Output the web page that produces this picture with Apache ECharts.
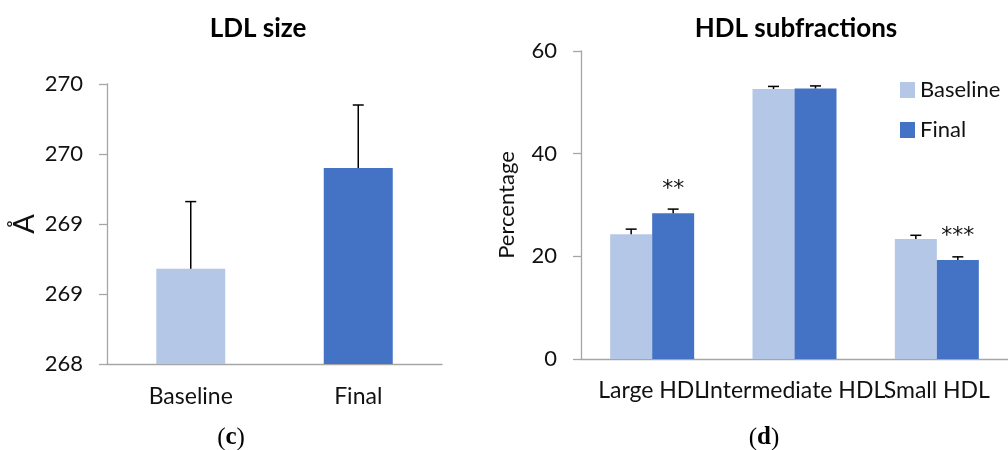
<!DOCTYPE html>
<html>
<head>
<meta charset="utf-8">
<script src="https://cdn.jsdelivr.net/npm/echarts@6/dist/echarts.min.js"></script>
<style>
  html, body { margin: 0; padding: 0; background: #fff; }
  #chart { width: 1008px; height: 450px; }
</style>
</head>
<body>
<div id="chart"></div>
<script>
// LDL particle size (Å), mean with upper error
const ldlCategories = ['Baseline', 'Final'];
const ldlValues = [268.68, 269.40];
const ldlErrors = [0.48, 0.45];
const ldlTickLabels = ['268', '269', '269', '270', '270'];

// HDL subfractions (% of total HDL)
const hdlCategories = ['Large HDL', 'Intermediate HDL', 'Small HDL'];
const hdlBaseline = [24.3, 52.6, 23.4];
const hdlBaselineErr = [1.0, 0.5, 0.7];
const hdlFinal = [28.4, 52.7, 19.3];
const hdlFinalErr = [0.8, 0.5, 0.6];
const hdlSignificance = ['**', '', '***'];

const LIGHT = '#b4c7e7';
const DARK = '#4472c4';
const AXIS = '#a6a6a6';
const FONT = 'Lato';
const TEXT = '#111';

// Upward-only error bar with a cap, shifted horizontally to sit on its bar
function errorBar(offset) {
  return function (params, api) {
    const cat = api.value(0);
    const val = api.value(1);
    const err = api.value(2);
    const base = api.coord([cat, val]);
    const top = api.coord([cat, val + err]);
    const x = base[0] + offset;
    const cap = 5.5;
    const st = { stroke: '#000', lineWidth: 1.5 };
    return {
      type: 'group',
      children: [
        { type: 'line', shape: { x1: x, y1: base[1], x2: x, y2: top[1] }, style: st },
        { type: 'line', shape: { x1: x - cap, y1: top[1], x2: x + cap, y2: top[1] }, style: st }
      ]
    };
  };
}

const chart = echarts.init(document.getElementById('chart'), null, { renderer: 'canvas' });

const axisLineStyle = { show: true, lineStyle: { color: AXIS, width: 1.3 } };
const tickStyle = { show: true, length: 8, lineStyle: { color: AXIS, width: 1.3 } };
const serifRich = {
  n: { fontFamily: 'Liberation Serif', fontSize: 25, fill: '#000' },
  b: { fontFamily: 'Liberation Serif', fontWeight: 'bold', fontSize: 25, fill: '#000' }
};

chart.setOption({
  animation: false,
  backgroundColor: '#fff',
  grid: [
    { left: 107, right: 566, top: 84, bottom: 86 },
    { left: 581, right: 0, top: 51, bottom: 91 }
  ],
  legend: {
    data: ['Baseline', 'Final'],
    orient: 'vertical',
    left: 895,
    top: 74,
    itemWidth: 15,
    itemHeight: 16,
    itemGap: 18,
    icon: 'rect',
    textStyle: { fontFamily: FONT, fontSize: 22, color: TEXT }
  },
  xAxis: [
    {
      type: 'category', gridIndex: 0, data: ldlCategories,
      axisLine: axisLineStyle, axisTick: { show: false },
      axisLabel: { fontFamily: FONT, fontSize: 23, color: TEXT, margin: 21 }
    },
    {
      type: 'category', gridIndex: 1, data: hdlCategories,
      axisLine: axisLineStyle, axisTick: { show: false },
      axisLabel: { fontFamily: FONT, fontSize: 23, color: TEXT, margin: 20, interval: 0, hideOverlap: false }
    }
  ],
  yAxis: [
    {
      type: 'value', gridIndex: 0, min: 268, max: 270, interval: 0.5,
      name: 'Å', nameLocation: 'middle', nameGap: 68, nameRotate: 90,
      nameTextStyle: { fontFamily: FONT, fontSize: 29, color: TEXT },
      axisLine: axisLineStyle, axisTick: tickStyle, splitLine: { show: false },
      axisLabel: {
        fontFamily: FONT, fontSize: 22, color: TEXT, margin: 24,
        formatter: function (v, i) { return ldlTickLabels[i]; }
      }
    },
    {
      type: 'value', gridIndex: 1, min: 0, max: 60, interval: 20,
      name: 'Percentage', nameLocation: 'middle', nameGap: 63, nameRotate: 90,
      nameTextStyle: { fontFamily: FONT, fontSize: 22, color: TEXT },
      axisLine: axisLineStyle, axisTick: tickStyle, splitLine: { show: false },
      axisLabel: { fontFamily: FONT, fontSize: 22, color: TEXT, margin: 24 }
    }
  ],
  graphic: [
    { type: 'text', x: 258, y: 29, style: { text: 'LDL size', fontFamily: FONT, fontWeight: 'bold', fontSize: 26, fill: '#000', textAlign: 'center', textVerticalAlign: 'middle' } },
    { type: 'text', x: 796, y: 29, style: { text: 'HDL subfractions', fontFamily: FONT, fontWeight: 'bold', fontSize: 26, fill: '#000', textAlign: 'center', textVerticalAlign: 'middle' } },
    { type: 'text', x: 231, y: 438, style: { text: '{n|(}{b|c}{n|)}', textAlign: 'center', textVerticalAlign: 'middle', rich: serifRich } },
    { type: 'text', x: 764, y: 438, style: { text: '{n|(}{b|d}{n|)}', textAlign: 'center', textVerticalAlign: 'middle', rich: serifRich } }
  ],
  series: [
    {
      name: 'LDL size', type: 'bar', xAxisIndex: 0, yAxisIndex: 0, barWidth: 69,
      data: ldlValues.map(function (v, i) { return { value: v, itemStyle: { color: i === 0 ? LIGHT : DARK } }; })
    },
    {
      name: 'LDL error', type: 'custom', xAxisIndex: 0, yAxisIndex: 0, z: 5,
      renderItem: errorBar(0), encode: { x: 0, y: 1 },
      data: ldlValues.map(function (v, i) { return [i, v, ldlErrors[i]]; })
    },
    {
      name: 'Baseline', type: 'bar', xAxisIndex: 1, yAxisIndex: 1, barWidth: 42, barGap: '0%',
      itemStyle: { color: LIGHT }, data: hdlBaseline
    },
    {
      name: 'Final', type: 'bar', xAxisIndex: 1, yAxisIndex: 1, barWidth: 42, barGap: '0%',
      itemStyle: { color: DARK }, data: hdlFinal,
      label: {
        show: true, position: 'top', distance: 13,
        fontFamily: 'DejaVu Sans', fontSize: 22, color: TEXT,
        formatter: function (p) { return hdlSignificance[p.dataIndex]; }
      }
    },
    {
      name: 'Baseline error', type: 'custom', xAxisIndex: 1, yAxisIndex: 1, z: 5,
      renderItem: errorBar(-21), encode: { x: 0, y: 1 },
      data: hdlBaseline.map(function (v, i) { return [i, v, hdlBaselineErr[i]]; })
    },
    {
      name: 'Final error', type: 'custom', xAxisIndex: 1, yAxisIndex: 1, z: 5,
      renderItem: errorBar(21), encode: { x: 0, y: 1 },
      data: hdlFinal.map(function (v, i) { return [i, v, hdlFinalErr[i]]; })
    }
  ]
});
</script>
</body>
</html>
